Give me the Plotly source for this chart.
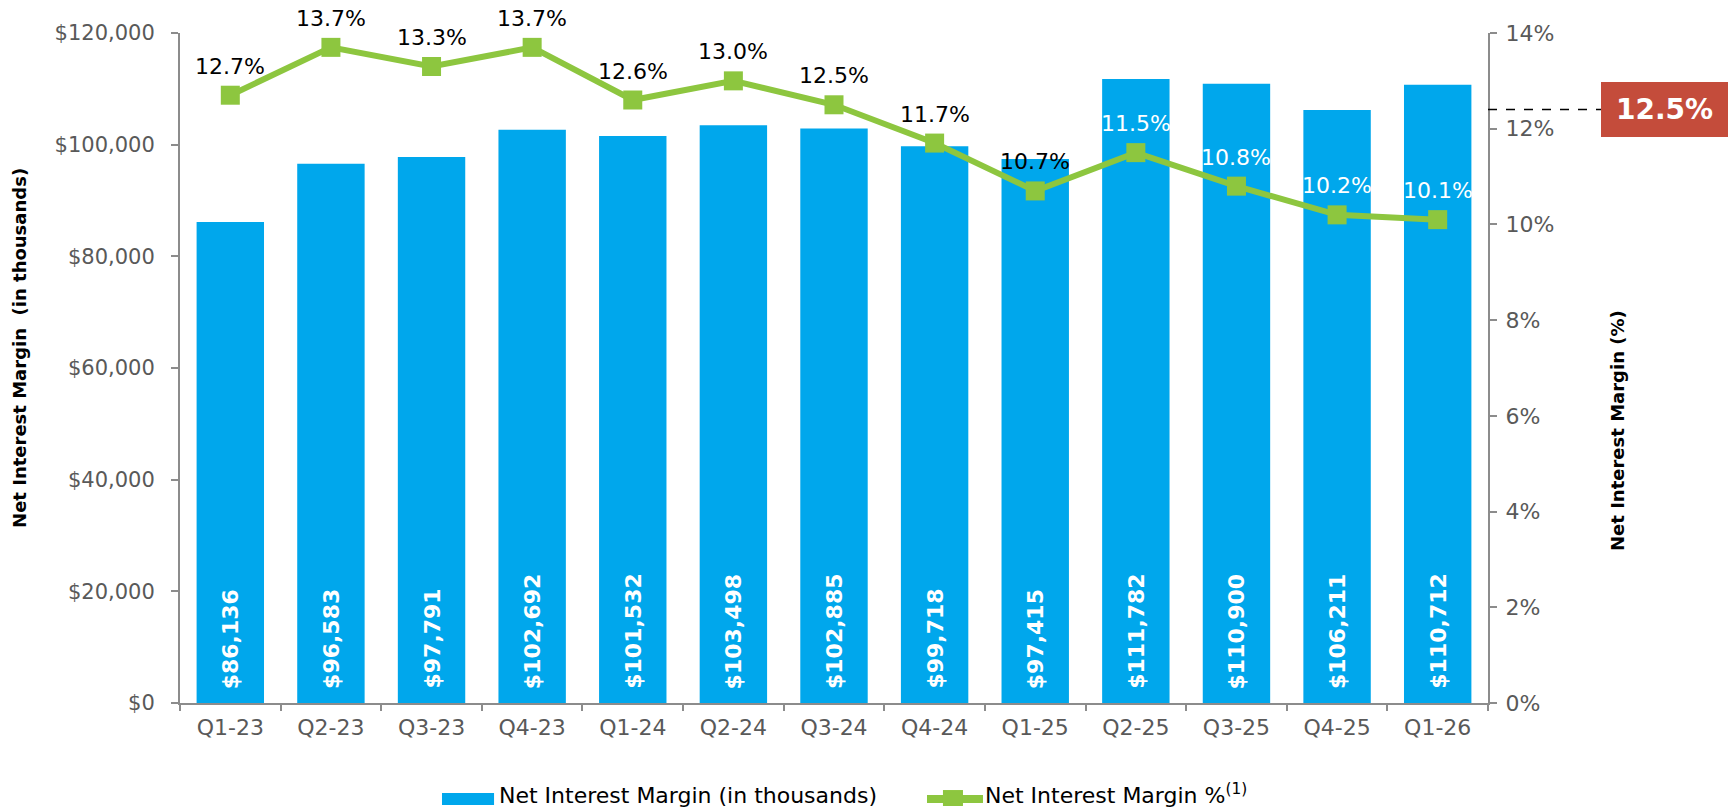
import plotly.graph_objects as go

quarters = ["Q1-23", "Q2-23", "Q3-23", "Q4-23", "Q1-24", "Q2-24", "Q3-24",
            "Q4-24", "Q1-25", "Q2-25", "Q3-25", "Q4-25", "Q1-26"]
nim_thousands = [86136, 96583, 97791, 102692, 101532, 103498, 102885,
                 99718, 97415, 111782, 110900, 106211, 110712]
nim_pct = [12.7, 13.7, 13.3, 13.7, 12.6, 13.0, 12.5, 11.7, 10.7, 11.5, 10.8, 10.2, 10.1]
pct_label_colors = ["#000000"] * 9 + ["#FFFFFF"] * 4
ref_label = "12.5%"
ref_line_value = 12.4
bar_series_name = "Net Interest Margin (in thousands)"
line_series_name = "Net Interest Margin %<sup>(1)</sup>"

BLUE = "#00A7EC"
GREEN = "#8DC63F"
RED = "#C44C3B"
AXIS = "#8C8C8C"
TICK = "#595959"
FONT = "DejaVu Sans"

fig = go.Figure()

fig.add_trace(go.Bar(
    x=quarters, y=nim_thousands, marker=dict(color=BLUE, line=dict(width=0)),
    name=bar_series_name, showlegend=False, yaxis="y",
))
fig.add_trace(go.Scatter(
    x=quarters, y=nim_pct, yaxis="y2", mode="lines+markers",
    line=dict(color=GREEN, width=6),
    marker=dict(symbol="square", size=19, color=GREEN),
    name=line_series_name, showlegend=False,
))

annotations = []
for q, v in zip(quarters, nim_thousands):
    annotations.append(dict(
        x=q, y=0, xref="x", yref="y", text=f"${v:,}", textangle=-90,
        showarrow=False, yanchor="bottom", xanchor="center", yshift=12,
        font=dict(family=FONT, size=22, color="white", weight="bold"),
    ))
for q, p, c in zip(quarters, nim_pct, pct_label_colors):
    annotations.append(dict(
        x=q, y=p, xref="x", yref="y2", text=f"{p:.1f}%", showarrow=False,
        yanchor="middle", xanchor="center", yshift=29,
        font=dict(family=FONT, size=22, color=c),
    ))
annotations.append(dict(
    x=-0.1223, y=0.53, xref="paper", yref="paper", text="Net Interest Margin  (in thousands)",
    textangle=-90, showarrow=False, xanchor="center", yanchor="middle",
    font=dict(family=FONT, size=18, color="black", weight="bold"),
))
annotations.append(dict(
    x=1.0994, y=0.406, xref="paper", yref="paper", text="Net Interest Margin (%)",
    textangle=-90, showarrow=False, xanchor="center", yanchor="middle",
    font=dict(family=FONT, size=18, color="black", weight="bold"),
))
annotations.append(dict(
    x=1.1353, y=ref_line_value, xref="paper", yref="y2", text=ref_label,
    showarrow=False, xanchor="center", yanchor="middle", bgcolor=RED,
    borderwidth=0, borderpad=2, width=123, height=51,
    font=dict(family=FONT, size=28, color="white", weight="bold"),
))
# legend texts
annotations.append(dict(
    x=0.2424, y=-0.1592, xref="paper", yref="paper", text=bar_series_name,
    showarrow=False, xanchor="left", yanchor="bottom",
    font=dict(family=FONT, size=22, color="black"),
))
annotations.append(dict(
    x=0.6140, y=-0.1592, xref="paper", yref="paper", text=line_series_name,
    showarrow=False, xanchor="left", yanchor="bottom",
    font=dict(family=FONT, size=22, color="black"),
))

shapes = [
    dict(type="line", xref="paper", yref="y2", x0=1.0, x1=1.087,
         y0=ref_line_value, y1=ref_line_value,
         line=dict(color="black", width=1.5, dash="dash")),
    # legend symbols
    dict(type="rect", xref="paper", yref="paper", x0=0.2003, x1=0.2401,
         y0=-0.1522, y1=-0.1343, fillcolor=BLUE, line=dict(width=0)),
    dict(type="line", xref="paper", yref="paper", x0=0.5711, x1=0.6139,
         y0=-0.1433, y1=-0.1433, line=dict(color=GREEN, width=8)),
    dict(type="rect", xref="paper", yref="paper", x0=0.5833, x1=0.5986,
         y0=-0.1537, y1=-0.1299, fillcolor=GREEN, line=dict(width=0)),
]

fig.update_layout(
    width=1731, height=810, autosize=False,
    margin=dict(l=180, r=243, t=33, b=107),
    plot_bgcolor="white", paper_bgcolor="white",
    font=dict(family=FONT, size=21, color=TICK),
    bargap=0.33, showlegend=False,
    annotations=annotations, shapes=shapes,
    xaxis=dict(
        range=[-0.5, len(quarters) - 0.5],
        showline=True, linecolor=AXIS, linewidth=2, ticks="outside", tickson="boundaries",
        ticklen=6, tickcolor=AXIS, tickwidth=2, tickfont=dict(size=22, color=TICK),
        showgrid=False, ticklabelstandoff=4,
    ),
    yaxis=dict(
        range=[0, 120000], dtick=20000, tickprefix="$", tickformat=",",
        showline=True, linecolor=AXIS, linewidth=2, ticks="outside", ticklen=7,
        tickcolor=AXIS, tickwidth=2, showgrid=False, zeroline=False,
        tickfont=dict(size=21, color=TICK), ticklabelstandoff=12,
    ),
    yaxis2=dict(
        range=[0, 14], dtick=2, ticksuffix="%", overlaying="y", side="right",
        showline=True, linecolor=AXIS, linewidth=2, ticks="outside", ticklen=7,
        tickcolor=AXIS, tickwidth=2, showgrid=False, zeroline=False,
        tickfont=dict(size=22, color=TICK), ticklabelstandoff=4,
    ),
)

fig.write_html(
    "out.html",
    config={"displayModeBar": False},
    post_script="document.body.style.margin='0';document.body.style.overflow='hidden';",
)
